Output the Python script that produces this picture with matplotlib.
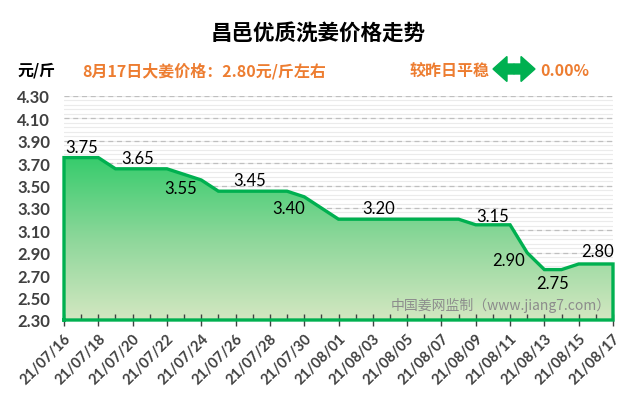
import matplotlib
matplotlib.use("Agg")
import matplotlib.pyplot as plt
import numpy as np
from matplotlib.colors import LinearSegmentedColormap
from matplotlib.patches import FancyArrow

plt.rcParams['font.family'] = ['Noto Sans CJK SC', 'DejaVu Sans']

# daily prices 21/07/16 .. 21/08/17
dates = ['21/07/16', '21/07/17', '21/07/18', '21/07/19', '21/07/20', '21/07/21',
         '21/07/22', '21/07/23', '21/07/24', '21/07/25', '21/07/26', '21/07/27',
         '21/07/28', '21/07/29', '21/07/30', '21/07/31', '21/08/01', '21/08/02',
         '21/08/03', '21/08/04', '21/08/05', '21/08/06', '21/08/07', '21/08/08',
         '21/08/09', '21/08/10', '21/08/11', '21/08/12', '21/08/13', '21/08/14',
         '21/08/15', '21/08/16', '21/08/17']
prices = [3.75, 3.75, 3.75, 3.65, 3.65, 3.65, 3.65, 3.60, 3.55, 3.45, 3.45, 3.45,
          3.45, 3.45, 3.40, 3.30, 3.20, 3.20, 3.20, 3.20, 3.20, 3.20, 3.20, 3.20,
          3.15, 3.15, 3.15, 2.90, 2.75, 2.75, 2.80, 2.80, 2.80]

# which points get a value label, and where the text sits (pixel offsets)
label_idx = [1, 4, 8, 11, 14, 19, 25, 27, 28, 31]
label_off = [(0, 11), (5, 11), (-21, -8), (-3, 11), (-16, -11), (-11, 11),
             (0, 9), (-19, -7), (8, -13), (2, 13)]

green = '#00B050'
orange = '#ED7D31'
grey_txt = '#404040'

x = np.arange(len(prices))
ymin, ymax = 2.30, 4.30

fig = plt.figure(figsize=(6.4, 4.1), dpi=100)
ax = fig.add_axes([64/640, 1-321/410, (613-64)/640, (321-97)/410])
ax.set_xlim(0, len(prices)-1)
ax.set_ylim(ymin, ymax)

# grid: dashed majors, light minors
for v in np.arange(ymin, ymax+0.001, 0.04):
    ax.axhline(v, color='#EBEBEB', lw=0.8, zorder=0)
for v in np.arange(ymin+0.2, ymax+0.001, 0.2):
    ax.axhline(v, color='#BFBFBF', lw=0.9, ls=(0, (4, 3)), zorder=0.5)

# gradient area
poly = ax.fill_between(x, prices, ymin, facecolor='none', edgecolor='none')
cmap = LinearSegmentedColormap.from_list('g', ['#D3E7C1', '#8DD79A', '#36CC6C'])
grad = np.linspace(0, 1, 256).reshape(-1, 1)
im = ax.imshow(grad, cmap=cmap, origin='lower', aspect='auto',
               extent=[0, len(prices)-1, ymin, max(prices)], zorder=1)
im.set_clip_path(poly.get_paths()[0], transform=ax.transData)
ox = np.concatenate([[0], x, [x[-1], 0]])
oy = np.concatenate([[ymin], prices, [ymin, ymin]])
ax.plot(ox, oy, color=green, lw=2.4, solid_joinstyle='miter', clip_on=False, zorder=3)

for i, (dx, dy) in zip(label_idx, label_off):
    ax.annotate(f'{prices[i]:.2f}', (x[i], prices[i]), xytext=(dx, dy),
                textcoords='offset pixels', ha='center', va='center',
                fontsize=12, family='Lato', color='black', zorder=4)

for s in ax.spines.values():
    s.set_visible(False)

ax.set_yticks(np.arange(ymin, ymax+0.001, 0.2))
ax.set_yticklabels([f'{v:.2f}' for v in np.arange(ymin, ymax+0.001, 0.2)],
                   fontsize=12, family='Lato', fontweight='bold', color=grey_txt)
ax.tick_params(axis='y', length=0, pad=10)

ax.set_xticks(x[::2])
ax.set_xticks(x, minor=True)
ax.set_xticklabels(dates[::2], rotation=45, ha='right', rotation_mode='anchor',
                   fontsize=10.5, family='Lato', fontweight='bold', color=grey_txt)
ax.tick_params(axis='x', which='major', direction='inout', length=8, width=1,
               color=grey_txt, pad=4)
ax.tick_params(axis='x', which='minor', direction='in', length=4, width=1, color=grey_txt)

ax.text(0.996, 0.07, '中国姜网监制（www.jiang7.com）', transform=ax.transAxes,
        ha='right', va='center', fontsize=10, color='#8C8C8C', zorder=4)

# header texts
fig.text(318/640, 1-33/410, '昌邑优质洗姜价格走势', ha='center', va='center',
         fontsize=15.5, fontweight='bold', color='black')
fig.text(17/640, 1-71/410, '元/斤', ha='left', va='center', fontsize=11.5,
         fontweight='bold', color='black')
fig.text(82/640, 1-71/410, '8月17日大姜价格：2.80元/斤左右', ha='left', va='center',
         fontsize=11.5, fontweight='bold', color=orange)
fig.text(490/640, 1-71/410, '较昨日平稳', ha='right', va='center', fontsize=11.5,
         fontweight='bold', color=orange)
fig.text(540/640, 1-71/410, '0.00%', ha='left', va='center', fontsize=11.5,
         fontweight='bold', color=orange)

# double arrow
cx, cy = 514/640, 1-70/410
for d in (1, -1):
    fig.patches.append(FancyArrow(cx, cy, d*21/640, 0, width=10/410,
                                  head_width=25/410, head_length=14/640,
                                  length_includes_head=True, color=green,
                                  transform=fig.transFigure, figure=fig))

fig.savefig('out.png', dpi=100)
